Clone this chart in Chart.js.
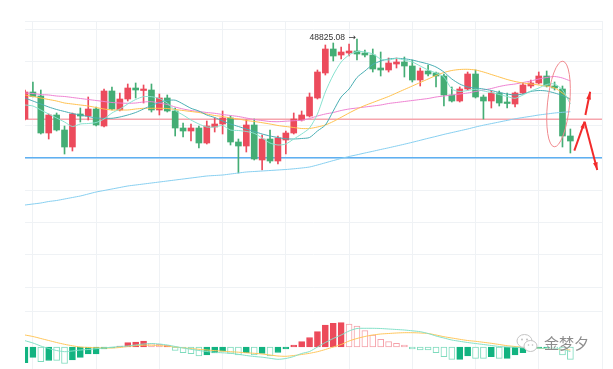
<!DOCTYPE html>
<html>
<head>
<meta charset="utf-8">
<script src="https://cdn.jsdelivr.net/npm/chart.js@4.4.1/dist/chart.umd.min.js"></script>
<style>
  html, body { margin: 0; padding: 0; background: #fff; }
  #wrap { position: relative; width: 613px; height: 369px; overflow: hidden; }
  #priceChart { position: absolute; left: 0; top: 0; }
  #macdChart { position: absolute; left: 0; top: 301px; }
  #wm { position: absolute; left: 516px; top: 332px; display: flex; align-items: center;
        color: #8d8d8d; font: 15px 'Noto Sans CJK SC', sans-serif; text-shadow: 0 0 2px #fff; }
  #wm svg { margin-right: 6px; }
</style>
</head>
<body>
<div id="wrap">
  <canvas id="priceChart" width="613" height="301"></canvas>
  <canvas id="macdChart" width="613" height="68"></canvas>
  <div id="wm">
    <svg width="22" height="20" viewBox="0 0 22 20">
      <ellipse cx="8.5" cy="8" rx="7.5" ry="6.5" fill="#fff" stroke="#c4c4c4"/>
      <ellipse cx="14.5" cy="13" rx="6.5" ry="5.5" fill="#fff" stroke="#c4c4c4"/>
      <circle cx="6" cy="6.5" r="0.9" fill="#bbb"/><circle cx="11" cy="6.5" r="0.9" fill="#bbb"/>
      <circle cx="12.5" cy="12" r="0.8" fill="#bbb"/><circle cx="16.5" cy="12" r="0.8" fill="#bbb"/>
    </svg>
    <span>金梦夕</span>
  </div>
</div>
<script>
// candles (hourly), index 0..69, four empty slots on the right
const slots = Array.from({ length: 74 }, (_, i) => 'K' + i);

const open = [48025,48295,48255,47885,48065,47915,47745,48075,48055,48125,
  47955,48305,48115,48225,48335,48310,48315,48115,48235,48105,
  47935,47905,47935,47785,47945,47975,48035,47795,47755,47965,
  47615,47825,47605,47815,47885,48015,48055,48235,48485,48725,
  48665,48685,48705,48685,48665,48535,48515,48575,48595,48555,
  48415,48505,48485,48455,48265,48205,48325,48475,48245,48205,
  48285,48195,48175,48285,48355,48385,48455,48355,48325,47855];
const high = [48315,48395,48315,48075,48085,47955,48085,48135,48245,48145,
  48325,48345,48285,48375,48385,48365,48375,48275,48265,48135,
  47985,47975,47955,48005,48035,48105,48055,47825,48015,48025,
  47865,47915,47855,47905,48085,48105,48285,48515,48765,48785,
  48745,48775,48825.08,48715,48725,48695,48635,48635,48645,48615,
  48535,48565,48495,48475,48345,48345,48495,48515,48265,48305,
  48305,48285,48295,48385,48415,48495,48505,48395,48355,47925];
const low = [48015,48245,47875,47825,47905,47675,47705,47995,48015,47955,
  47945,48115,48105,48205,48235,48185,48095,48065,48095,47855,
  47845,47805,47735,47775,47895,47875,47765,47485,47695,47615,
  47515,47585,47575,47675,47875,48005,48045,48225,48465,48605,
  48625,48655,48615,48645,48495,48455,48495,48535,48445,48395,
  48355,48455,48345,48155,48195,48195,48315,48235,48025,48135,
  48155,48135,48145,48275,48335,48375,48345,48315,47745,47685];
const close = [48295,48250,47885,48065,47915,47745,48075,48055,48125,47965,
  48305,48125,48225,48335,48315,48325,48115,48235,48105,47935,
  47905,47935,47785,47955,47975,48035,47795,47755,47965,47625,
  47825,47605,47835,47885,48025,48065,48245,48495,48725,48655,
  48695,48705,48675,48665,48525,48515,48585,48595,48555,48415,
  48505,48475,48455,48265,48205,48325,48475,48245,48205,48285,
  48185,48180,48285,48365,48385,48455,48355,48335,47855,47805];

// moving averages
const ma5 = [48165,48155,48115,48075,48035,47995,47950,47975,47980,47990,
  48025,48085,48125,48175,48220,48248,48248,48230,48185,48110,
  48065,48015,47975,47945,47945,47960,47915,47910,47900,47882,
  47835,47785,47765,47775,47825,47875,47935,48075,48295,48465,
  48595,48665,48700,48695,48675,48625,48615,48630,48615,48595,
  48555,48515,48485,48445,48325,48300,48310,48322,48305,48290,
  48270,48250,48232,48265,48305,48335,48370,48375,48315,48175];
const ma10 = [48235,48205,48175,48145,48120,48100,48080,48065,48050,48035,
  48032,48032,48045,48065,48090,48125,48160,48190,48210,48213,
  48175,48132,48105,48065,48040,48005,47975,47950,47925,47900,
  47875,47855,47840,47827,47825,47830,47840,47905,47965,48105,
  48245,48325,48440,48505,48570,48605,48625,48632,48627,48615,
  48595,48575,48545,48495,48425,48375,48345,48335,48325,48310,
  48290,48275,48265,48275,48300,48310,48305,48285,48260,48225];
const ma20 = [48265,48250,48235,48220,48205,48185,48175,48165,48155,48140,
  48125,48115,48115,48115,48125,48132,48132,48132,48130,48120,
  48110,48100,48090,48075,48060,48050,48035,48025,48010,48000,
  47988,47975,47960,47950,47940,47930,47930,47945,47965,48000,
  48042,48085,48125,48160,48190,48220,48250,48285,48320,48355,
  48390,48425,48460,48490,48510,48520,48522,48515,48495,48470,
  48445,48420,48400,48385,48375,48365,48355,48335,48285,48215];
const ma30 = [48285,48280,48270,48265,48255,48250,48240,48230,48220,48210,
  48200,48190,48185,48182,48185,48195,48198,48185,48170,48145,
  48125,48110,48100,48090,48082,48070,48060,48050,48035,48020,
  48010,48000,47998,48003,48008,48012,48030,48055,48075,48090,
  48110,48125,48135,48145,48155,48165,48180,48190,48200,48210,
  48220,48230,48245,48255,48265,48275,48285,48300,48315,48330,
  48350,48365,48375,48390,48405,48425,48440,48450,48435,48405];
const ma60 = [47165,47175,47185,47200,47210,47225,47240,47255,47275,47295,
  47310,47325,47340,47355,47365,47375,47385,47395,47405,47415,
  47425,47435,47445,47455,47460,47465,47475,47485,47495,47500,
  47505,47510,47515,47520,47527,47535,47545,47565,47587,47609,
  47630,47650,47667,47685,47702,47720,47737,47755,47773,47792,
  47812,47832,47851,47871,47889,47907,47925,47945,47963,47979,
  47995,48011,48027,48040,48052,48065,48075,48085,48092,48098];

// MACD pane
const macdHist = [-62.8,-41.2,-58.8,-54,-53.2,-66,-52,-41.2,-28,-28,
  -8,-4,4,17.2,20,24,13.2,10.8,5.2,-14,
  -22.8,-26.8,-36,-32,-24,-16.8,-25.2,-32,-22.8,-32,
  -25.2,-36,-22,-8,8,21.2,38,61.2,88,94.8,
  97.2,92,84,65.2,48,30.8,21.2,14.8,8,-8,
  -12,-12,-22.8,-38.8,-49.2,-49.2,-36,-45.2,-45.2,-38.8,
  -45.2,-45.2,-32,-22.8,-12,-5.2,-2.8,-2.8,-32,-49.2];
const histHollow = [0,0,1,0,1,1,0,0,0,0,
  0,0,0,0,0,0,1,1,0,1,
  1,1,1,0,0,0,1,1,0,1,
  0,1,0,0,0,0,0,0,0,0,
  0,1,1,1,1,1,1,1,1,1,
  1,1,1,1,1,0,0,1,1,0,
  1,0,0,0,0,0,0,1,1,1];
const dif = [25.2,16,4,-6,-14,-18.8,-16,-12,-10,-6.8,
  -4,-1.2,2,4,8,12,14,12,8,2,
  -4,-9.2,-14,-18,-21.2,-23.2,-25.2,-29.2,-34,-38,
  -40.8,-45.2,-49.2,-46,-38,-26,-18,0,18,34,
  48,64,74,74.8,74.8,74,72,70,68,64.8,
  61.2,54,44,36,28,22.8,18,14,10,6,
  2,0,-1.2,-3.2,-4.8,-5.2,-5.2,-5.2,-10,-18];
const dea = [48,42,34,26,18,10.8,4.8,0,-2,-3.2,
  -4,-4,-2,2,5.2,7.2,7.2,5.6,3.2,0,
  -3.2,-6.4,-9.2,-12,-14.4,-16.8,-18.8,-20.8,-23.2,-25.2,
  -28,-32,-36,-37.2,-34,-30,-25.2,-18.8,-10,0,
  10,24,34,42,48,52,54,56,57.2,57.2,
  56,54,48,41.2,36,30.8,26,22.8,18.8,14.8,
  10,5.2,2,-1.2,-3.2,-5.2,-6.8,-8.8,-10,-12];

// y grid levels and the two drawn price levels
const priceGrid = [49005,48925,48602,48280,47958,47635,47312,46990,46668,46345];
const macdGrid = [140];
const resistance = 48022;
const support = 47638;
const highIndex = 42;

const UP = '#ec4b5c', DOWN = '#44ad75';
const GRID = '#eff2f5';

const candleColors = close.map((c, i) => c >= open[i] ? UP : DOWN);

const xGrid = {
  color: ctx => (ctx.index % 8 === 1 ? GRID : 'rgba(0,0,0,0)'),
  drawTicks: false,
  offset: false
};

function arrow(ctx, x1, y1, x2, y2, head) {
  ctx.beginPath();
  ctx.moveTo(x1, y1);
  ctx.lineTo(x2, y2);
  ctx.stroke();
  const a = Math.atan2(y2 - y1, x2 - x1);
  ctx.beginPath();
  ctx.moveTo(x2, y2);
  ctx.lineTo(x2 - head * Math.cos(a - 0.3), y2 - head * Math.sin(a - 0.3));
  ctx.lineTo(x2 - head * Math.cos(a + 0.3), y2 - head * Math.sin(a + 0.3));
  ctx.closePath();
  ctx.fill();
}

// levels, high label and the hand-drawn marks
const marks = {
  id: 'marks',
  beforeDatasetsDraw(chart) {
    const { ctx, chartArea: a, scales: { y } } = chart;
    ctx.save();
    ctx.lineWidth = 1.5;
    ctx.strokeStyle = '#f6a5ad';
    let py = y.getPixelForValue(resistance);
    ctx.beginPath(); ctx.moveTo(a.left, py); ctx.lineTo(a.right, py); ctx.stroke();
    ctx.strokeStyle = '#5fb0f2';
    py = y.getPixelForValue(support);
    ctx.beginPath(); ctx.moveTo(a.left, py); ctx.lineTo(a.right, py); ctx.stroke();
    ctx.restore();
  },
  afterDatasetsDraw(chart) {
    const { ctx, scales: { x, y } } = chart;
    ctx.save();
    // high label: value, then a small arrow pointing at the wick
    const hx = x.getPixelForValue(highIndex), hy = y.getPixelForValue(high[highIndex]) - 1;
    ctx.fillStyle = '#333';
    ctx.textBaseline = 'middle';
    ctx.textAlign = 'right';
    ctx.font = "9px 'DejaVu Sans', sans-serif";
    ctx.fillText('→', hx - 1, hy);
    ctx.font = "8.5px 'Liberation Sans', Arial, sans-serif";
    ctx.fillText('48825.08', hx - 12, hy);

    // ellipse around the big drop
    const cx = x.getPixelForValue(67.5), cy = y.getPixelForValue(48175);
    const rx = x.getPixelForValue(68.9) - cx, ry = cy - y.getPixelForValue(48605);
    ctx.strokeStyle = '#f08a8f';
    ctx.lineWidth = 1;
    ctx.beginPath();
    ctx.ellipse(cx, cy, rx, ry, 0.1, 0, Math.PI * 2);
    ctx.stroke();

    // red arrows
    ctx.strokeStyle = '#f22b2b';
    ctx.fillStyle = '#f22b2b';
    ctx.lineWidth = 2;
    const p = (i, v) => [x.getPixelForValue(i), y.getPixelForValue(v)];
    arrow(ctx, ...p(69.5, 47708), ...p(70.8, 47998), 7);
    arrow(ctx, ...p(70.9, 48065), ...p(71.5, 48298), 8);
    arrow(ctx, ...p(70.8, 47998), ...p(72.4, 47515), 8);
    ctx.restore();
  }
};

const lineDs = (data, color) => ({
  type: 'line', data, borderColor: color, borderWidth: 1,
  pointRadius: 0, tension: 0.25, order: 0
});

new Chart(document.getElementById('priceChart'), {
  type: 'bar',
  data: {
    labels: slots,
    datasets: [
      lineDs(ma5, '#88e2cf'),
      lineDs(ma10, '#4aaeb3'),
      lineDs(ma20, '#ffc14f'),
      lineDs(ma30, '#ee82d2'),
      lineDs(ma60, '#87cff0'),
      {
        data: open.map((o, i) => [o, close[i]]),
        backgroundColor: candleColors, borderWidth: 0,
        barThickness: 6, grouped: false, clip: 0, order: 1
      },
      {
        data: low.map((l, i) => [l, high[i]]),
        backgroundColor: candleColors, borderWidth: 0,
        barThickness: 1, grouped: false, clip: 0, order: 2
      }
    ]
  },
  options: {
    responsive: false,
    animation: false,
    layout: { padding: { left: 25, right: 11, top: 21, bottom: 0 } },
    plugins: { legend: { display: false }, tooltip: { enabled: false } },
    scales: {
      x: {
        offset: false,
        ticks: { display: false },
        grid: xGrid,
        border: { display: true, color: '#e4e7eb' }
      },
      y: {
        min: 46205, max: 49005,
        ticks: { display: false },
        afterBuildTicks: s => { s.ticks = priceGrid.map(v => ({ value: v })); },
        grid: { color: GRID, drawTicks: false },
        border: { display: false }
      }
    }
  },
  plugins: [marks]
});

new Chart(document.getElementById('macdChart'), {
  type: 'bar',
  data: {
    labels: slots,
    datasets: [
      lineDs(dif, '#84e0c8'),
      lineDs(dea, '#ffc65c'),
      {
        data: macdHist,
        backgroundColor: macdHist.map((v, i) => histHollow[i] ? '#ffffff' : (v >= 0 ? '#ec4a5a' : '#12b380')),
        borderColor: macdHist.map((v, i) => histHollow[i] ? (v >= 0 ? '#f5a1a9' : '#7edbbd') : (v >= 0 ? '#ec4a5a' : '#12b380')),
        borderWidth: 1, borderSkipped: false,
        barThickness: 6, clip: 0, order: 1
      }
    ]
  },
  options: {
    responsive: false,
    animation: false,
    layout: { padding: { left: 25, right: 11, top: 0, bottom: 0 } },
    plugins: { legend: { display: false }, tooltip: { enabled: false } },
    scales: {
      x: {
        offset: false,
        ticks: { display: false },
        grid: xGrid,
        border: { display: false }
      },
      y: {
        min: -88, max: 184,
        ticks: { display: false },
        afterBuildTicks: s => { s.ticks = macdGrid.map(v => ({ value: v })); },
        grid: { color: GRID, drawTicks: false },
        border: { display: false }
      }
    }
  }
});
</script>
</body>
</html>
